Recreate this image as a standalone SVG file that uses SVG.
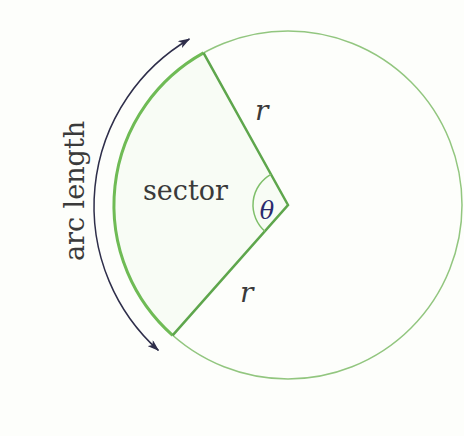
<svg xmlns="http://www.w3.org/2000/svg" width="464" height="436" viewBox="0 0 464 436">
<style>
.lbl{font-family:"DejaVu Serif","Liberation Serif",serif;fill:#3a3a3a}
.it{font-style:italic}
.circle{fill:none;stroke:#92c67f;stroke-width:1.5}
.radius{fill:none;stroke:#5ea64c;stroke-width:2.5}
.arc{fill:none;stroke:#6fbb55;stroke-width:3}
.ang{fill:none;stroke:#7fbf6a;stroke-width:1.5}
.arrow{fill:none;stroke:#2e2e4a;stroke-width:1.5}
</style>
<defs>
<marker id="ah" viewBox="0 0 12 8" refX="11" refY="4" markerWidth="12" markerHeight="8" markerUnits="userSpaceOnUse" orient="auto-start-reverse">
<path d="M0,0 L12,4 L0,8 L3,4 Z" fill="#2e2e4a"/>
</marker>
</defs>
<rect width="464" height="436" fill="#fdfefb"/>
<g id="circle">
<circle class="circle" cx="288" cy="205" r="174"/>
</g>
<g id="sector">
<path d="M288,205 L203.5,52.9 A174,174 0 0 0 172.6,335.3 Z" fill="#f8fcf5" stroke="none"/>
<path class="arc" d="M203.5,52.9 A174,174 0 0 0 172.6,335.3"/>
<path class="radius" d="M203.5,52.9 L288,205 L172.6,335.3"/>
<text class="lbl" x="143" y="200" font-size="27">sector</text>
</g>
<g id="angle">
<path class="ang" d="M271,174.4 A35,35 0 0 0 264.8,231.2"/>
<text class="lbl it" x="267" y="219" font-size="24" text-anchor="middle" style="fill:#2a2a6e">θ</text>
</g>
<g id="r-top"><text class="lbl it" x="255" y="120" font-size="28">r</text></g>
<g id="r-bottom"><text class="lbl it" x="240" y="302" font-size="28">r</text></g>
<g id="connectors">
<path class="arrow" d="M189.4,39 A194,194 0 0 0 158.4,350.4" marker-start="url(#ah)" marker-end="url(#ah)"/>
</g>
<g id="arc-length">
<text class="lbl" transform="translate(84,191) rotate(-90)" font-size="27" text-anchor="middle">arc length</text>
</g>
</svg>
